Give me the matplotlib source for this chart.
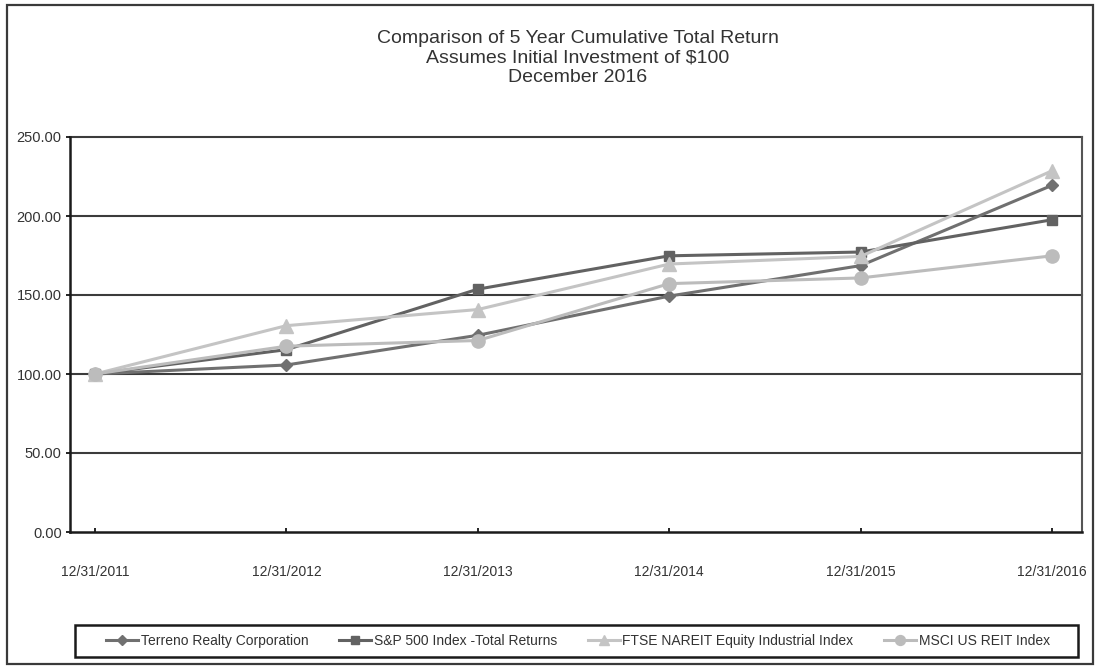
import matplotlib
matplotlib.use("Agg")
import matplotlib.pyplot as plt
from matplotlib.patches import Rectangle

dates = ["12/31/2011", "12/31/2012", "12/31/2013", "12/31/2014", "12/31/2015", "12/31/2016"]
terreno = [100.00, 105.7, 124.5, 149.3, 168.6, 219.4]
sp500 = [100.00, 115.4, 153.7, 174.8, 177.2, 197.6]
ftse = [100.00, 130.6, 140.8, 169.6, 174.4, 228.6]
msci = [100.00, 117.6, 121.2, 157.2, 160.8, 174.8]
y_ticks = [0, 50, 100, 150, 200, 250]

plt.rcParams["font.family"] = ["Liberation Sans", "DejaVu Sans"]
text_col = "#333333"

W, H = 1095, 667
fig = plt.figure(figsize=(W / 100, H / 100), dpi=100)
fig.patch.set_facecolor("white")

# outer frame round the whole chart
fig.patches.append(Rectangle((7 / W, 1 - 664 / H), (1093 - 7) / W, (664 - 5) / H,
                             transform=fig.transFigure, fill=False,
                             edgecolor="#3a3a3a", linewidth=1.6))
# legend frame (drawn by hand so it can be wider than the entries)
fig.patches.append(Rectangle((75 / W, 1 - 657 / H), (1078 - 75) / W, (657 - 625) / H,
                             transform=fig.transFigure, fill=False,
                             edgecolor="#1a1a1a", linewidth=1.8))

ax = fig.add_axes([70 / W, 1 - 532 / H, (1082 - 70) / W, (532 - 137) / H])
x = list(range(len(dates)))

ax.plot(x, terreno, color="#707070", linewidth=2.2, marker="D", markersize=6.5,
        label="Terreno Realty Corporation")
ax.plot(x, sp500, color="#626262", linewidth=2.2, marker="s", markersize=7.5,
        label="S&P 500 Index -Total Returns")
ax.plot(x, ftse, color="#c4c4c4", linewidth=2.2, marker="^", markersize=9.5,
        label="FTSE NAREIT Equity Industrial Index")
ax.plot(x, msci, color="#bcbcbc", linewidth=2.2, marker="o", markersize=9.5,
        label="MSCI US REIT Index")

ax.set_ylim(0, 250)
ax.set_xlim(-25 / 191.4, 5 + 30 / 191.4)
ax.set_yticks(y_ticks)
ax.set_yticklabels([f"{v:.2f}" for v in y_ticks])
ax.set_xticks(x)
ax.set_xticklabels(dates)
for v in y_ticks[1:]:
    ax.axhline(v, color="#3c3c3c", linewidth=1.5, zorder=0.5, clip_on=False)

ax.tick_params(axis="y", direction="out", length=3, width=1.2, pad=3,
               labelsize=10.5, labelcolor=text_col)
ax.tick_params(axis="x", direction="in", length=3, width=1.2, pad=24,
               labelsize=10, labelcolor=text_col)
for side in ["left", "bottom"]:
    ax.spines[side].set_color("#1a1a1a")
    ax.spines[side].set_linewidth(1.8)
ax.spines["right"].set_color("#555555")
ax.spines["right"].set_linewidth(1.5)
ax.spines["top"].set_visible(False)

fig.text(578 / W, 1 - 58 / H,
         "Comparison of 5 Year Cumulative Total Return\n"
         "Assumes Initial Investment of $100\nDecember 2016",
         ha="center", va="center", fontsize=14, color=text_col, linespacing=1.2)

leg = fig.legend(loc="center", bbox_to_anchor=(578 / W, 1 - 641 / H), ncol=4,
                 fontsize=10, frameon=False, handlelength=2.3,
                 handletextpad=0.2, columnspacing=2.2, markerscale=0.75,
                 labelcolor=text_col)

fig.savefig("out.png", dpi=100)
